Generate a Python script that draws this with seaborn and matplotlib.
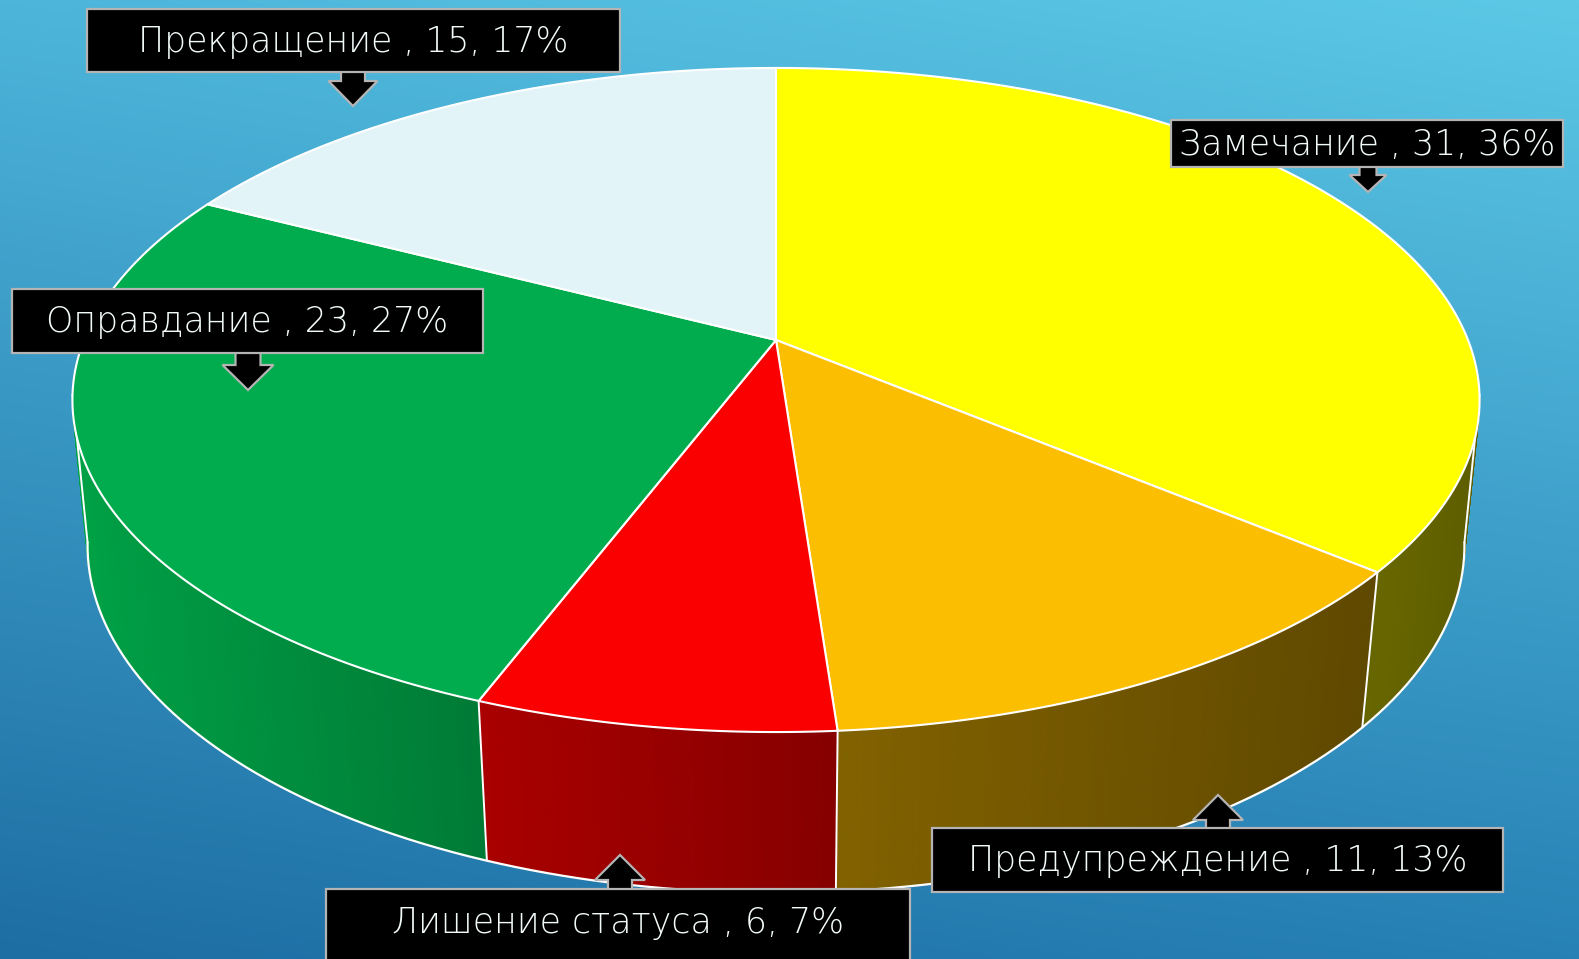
import numpy as np
import matplotlib
matplotlib.use('Agg')
import matplotlib.pyplot as plt
import seaborn as sns
from matplotlib.patches import Polygon, Rectangle
from matplotlib.collections import PolyCollection
from matplotlib.colors import to_rgb

# ---------------- data ----------------
categories = ['Замечание', 'Предупреждение', 'Лишение статуса', 'Оправдание', 'Прекращение']
values = [31, 11, 6, 23, 15]
percents = [36, 13, 7, 27, 17]

# ---------------- style ----------------
top_colors = ['#FFFF00', '#FBBE00', '#FA0000', '#00AC4E', '#E2F4F8']
side_left = ['#686700', '#826200', '#AA0000', '#00A246', '#B0C4C8']
side_right = ['#5E5D00', '#5F4800', '#860000', '#007A36', '#A0B4B8']

sns.set_theme(style='white')
plt.rcParams['font.family'] = ['DejaVu Sans']

W, H = 1579, 959
fig = plt.figure(figsize=(W / 100, H / 100), dpi=100)
ax = fig.add_axes([0, 0, 1, 1])
ax.set_xlim(0, W)
ax.set_ylim(H, 0)
ax.axis('off')

# background gradient
tl, tr = np.array(to_rgb('#4DB5DA')), np.array(to_rgb('#5CC8E6'))
bl, br = np.array(to_rgb('#1D6EA3')), np.array(to_rgb('#2781B5'))
yy, xx = np.mgrid[0:1:200j, 0:1:300j]
bg = ((1 - yy)[..., None] * ((1 - xx)[..., None] * tl + xx[..., None] * tr)
      + yy[..., None] * ((1 - xx)[..., None] * bl + xx[..., None] * br))
ax.imshow(bg, extent=(0, W, H, 0), aspect='auto', interpolation='bilinear', zorder=0)

# perspective projection of top and bottom discs
CX = 776.0
TOP = dict(A=692.0, cy=340.0, B=321.2, k=0.1807)
BOT = dict(A=678.0, cy=485.0, B=337.0, k=0.1737)


def proj(t, p):
    u, v = np.sin(t), np.cos(t)
    w = 1 + p['k'] * v
    return CX + p['A'] * u / w, p['cy'] - p['B'] * v / w


total = sum(values)
edges = 2 * np.pi * np.concatenate([[0], np.cumsum(values)]) / total

# ---- side wall ----
s0, s1 = np.radians(99.5), np.radians(260.5)
quads, cols, keys = [], [], []
for i in range(len(values)):
    a, b = max(edges[i], s0), min(edges[i + 1], s1)
    if a >= b:
        continue
    ts = np.linspace(a, b, max(3, int(np.degrees(b - a) * 3)))
    xt, yt = proj(ts, TOP)
    xb, yb = proj(ts, BOT)
    xmin, xmax = min(xt.min(), xb.min()), max(xt.max(), xb.max())
    cl, cr = np.array(to_rgb(side_left[i])), np.array(to_rgb(side_right[i]))
    for j in range(len(ts) - 1):
        q = [(xt[j], yt[j]), (xt[j + 1], yt[j + 1]), (xb[j + 1], yb[j + 1]), (xb[j], yb[j])]
        xm = 0.25 * (xt[j] + xt[j + 1] + xb[j] + xb[j + 1])
        f = (xm - xmin) / (xmax - xmin) if xmax > xmin else 0
        quads.append(q)
        cols.append(cl * (1 - f) + cr * f)
        keys.append(-abs(0.5 * (ts[j] + ts[j + 1]) - np.pi))
order = np.argsort(keys)
pc = PolyCollection([quads[o] for o in order], facecolors=[cols[o] for o in order],
                    edgecolors=[cols[o] for o in order], linewidths=0.8, zorder=2)
ax.add_collection(pc)

# side outlines
tb = np.linspace(s0, s1, 400)
ax.plot(*proj(tb, BOT), color='white', lw=1.6, zorder=3)
for t in [s0, s1] + [e for e in edges if s0 < e < s1]:
    (x1, y1), (x2, y2) = proj(t, TOP), proj(t, BOT)
    ax.plot([x1, x2], [y1, y2], color='white', lw=1.4, zorder=3)

# ---- top face ----
for i in range(len(values)):
    ts = np.linspace(edges[i], edges[i + 1], 300)
    xt, yt = proj(ts, TOP)
    pts = np.column_stack([np.r_[CX, xt], np.r_[TOP['cy'], yt]])
    ax.add_patch(Polygon(pts, closed=True, facecolor=top_colors[i], edgecolor='white',
                         lw=1.5, joinstyle='round', zorder=4))

# ---- labels ----
labels = [f'{c} , {v}, {p}%' for c, v, p in zip(categories, values, percents)]
boxes = [(1171, 120, 1563, 167), (932, 828, 1503, 892), (326, 889, 910, 975),
         (12, 289, 483, 353), (87, 9, 620, 72)]
text_y = [145, 861, 923, 322, 42]
# (x centre, tip y, base y, stem half-width, head half-width, head height)
arrows = [(1368, 192, 160, 8.5, 18.5, 17), (1218, 795, 835, 12, 25, 25),
          (620, 855, 895, 12, 25, 25), (248, 390, 345, 12.5, 25.5, 25),
          (353, 106, 65, 12, 24.5, 25)]

for lab, (x0, y0, x1, y1), ty, (ax_, tip, base, sw, hw, hh) in zip(labels, boxes, text_y, arrows):
    d = 1 if tip > base else -1
    yh = tip - d * hh
    arr = [(ax_ - sw, base), (ax_ - sw, yh), (ax_ - hw, yh), (ax_, tip),
           (ax_ + hw, yh), (ax_ + sw, yh), (ax_ + sw, base)]
    ax.add_patch(Polygon(arr, closed=True, facecolor='black', edgecolor='#B4B4B4', lw=1.6, zorder=6))
    ax.add_patch(Rectangle((x0, y0), x1 - x0, y1 - y0, facecolor='black', edgecolor='#B4B4B4',
                           lw=1.6, zorder=7))
    ax.text((x0 + x1) / 2, ty, lab, color='#F2FAFA', fontsize=25, fontweight='light',
            ha='center', va='center', zorder=8)

fig.savefig('out.png', dpi=100)
